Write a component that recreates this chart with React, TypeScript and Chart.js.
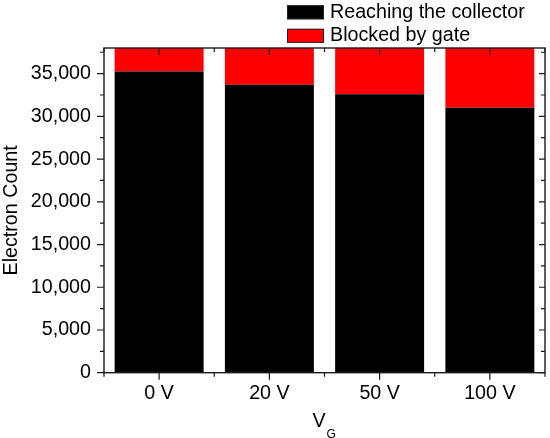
import React, { useEffect, useRef } from 'react';
import { Chart, registerables } from 'chart.js';

Chart.register(...registerables);

// ---- data ----
const categories = ['0 V', '20 V', '50 V', '100 V'];
const reachingCollector = [35250, 33700, 32600, 31000];
const blockedByGate = [4750, 6300, 7400, 9000];
const seriesLabels = ['Reaching the collector', 'Blocked by gate'];
const seriesColors = ['#000000', '#ff0000'];
const yMin = 0;
const yMax = 38000;
const yStep = 5000;
const yTickValues = [0, 5000, 10000, 15000, 20000, 25000, 30000, 35000];
const yTitle = 'Electron Count';
const xTitleMain = 'V';
const xTitleSub = 'G';

const FONT = '"Liberation Sans", Arial, Helvetica, sans-serif';
const FS = 19.7;

const framePlugin = {
  id: 'frameTicks',
  afterDatasetsDraw(chart: any) {
    const { ctx, chartArea: a, scales } = chart;
    const xs = scales.x;
    const ys = scales.y;
    ctx.save();
    ctx.strokeStyle = '#1a1a1a';
    ctx.lineWidth = 1.4;
    ctx.strokeRect(a.left, a.top, a.right - a.left, a.bottom - a.top);
    ctx.lineWidth = 1.2;
    ctx.beginPath();
    const n = categories.length;
    for (let i = 0; i < n; i++) {
      const px = xs.getPixelForValue(i);
      ctx.moveTo(px, a.bottom);
      ctx.lineTo(px, a.bottom + 7);
      ctx.moveTo(px, a.top);
      ctx.lineTo(px, a.top + 7);
    }
    for (let i = 0; i <= n; i++) {
      const px = xs.getPixelForValue(i - 0.5);
      ctx.moveTo(px, a.bottom);
      ctx.lineTo(px, a.bottom + 4);
      ctx.moveTo(px, a.top);
      ctx.lineTo(px, a.top + 4);
    }
    for (const t of ys.ticks) {
      const py = ys.getPixelForValue(t.value);
      ctx.moveTo(a.left - 7, py);
      ctx.lineTo(a.left, py);
      ctx.moveTo(a.right - 6, py);
      ctx.lineTo(a.right, py);
    }
    for (let v = yStep / 2; v < yMax; v += yStep) {
      const py = ys.getPixelForValue(v);
      ctx.moveTo(a.left - 4, py);
      ctx.lineTo(a.left, py);
      ctx.moveTo(a.right - 4, py);
      ctx.lineTo(a.right, py);
    }
    ctx.stroke();
    ctx.restore();
  },
  afterDraw(chart: any) {
    const { ctx, chartArea: a } = chart;
    ctx.save();
    // x-axis title with subscript
    ctx.fillStyle = '#000';
    ctx.textBaseline = 'alphabetic';
    ctx.textAlign = 'left';
    ctx.font = `${FS}px ${FONT}`;
    const cx = (a.left + a.right) / 2 - 5.5;
    const vW = ctx.measureText(xTitleMain).width;
    ctx.fillText(xTitleMain, cx - vW / 2, a.bottom + 54);
    ctx.font = `12px ${FONT}`;
    ctx.fillText(xTitleSub, cx + vW / 2 + 1, a.bottom + 65);

    // legend (vertical, top right)
    ctx.font = `${FS}px ${FONT}`;
    ctx.textBaseline = 'middle';
    chart.data.datasets.forEach((ds: any, i: number) => {
      const yc = 12.3 + i * 23.5;
      ctx.fillStyle = ds.backgroundColor;
      ctx.fillRect(287, yc - 7, 37, 14);
      ctx.strokeStyle = '#222';
      ctx.lineWidth = 1;
      ctx.strokeRect(287.5, yc - 6.5, 36, 13);
      ctx.fillStyle = '#000';
      ctx.fillText(ds.label, 330, yc);
    });
    ctx.restore();
  },
};

export default function App() {
  const ref = useRef<HTMLCanvasElement | null>(null);
  useEffect(() => {
    if (!ref.current) return;
    const font = { family: FONT, size: FS };
    const chart = new Chart(ref.current, {
      type: 'bar',
      data: {
        labels: categories,
        datasets: [
          {
            label: seriesLabels[0],
            data: reachingCollector,
            backgroundColor: seriesColors[0],
            borderWidth: 0,
            barPercentage: 0.807,
            categoryPercentage: 1,
          },
          {
            label: seriesLabels[1],
            data: blockedByGate,
            backgroundColor: seriesColors[1],
            borderWidth: 0,
            barPercentage: 0.807,
            categoryPercentage: 1,
          },
        ],
      },
      options: {
        animation: false,
        responsive: true,
        maintainAspectRatio: false,
        layout: { padding: { left: 0, right: 5, top: 48, bottom: 0 } },
        plugins: {
          legend: { display: false },
          tooltip: { enabled: false },
        },
        scales: {
          x: {
            stacked: true,
            grid: { display: false, drawTicks: false },
            border: { display: false },
            ticks: { font, color: '#000', padding: 9.5, maxRotation: 0, autoSkip: false },
            afterFit: (s: any) => {
              s.height = 65.3;
            },
          },
          y: {
            stacked: true,
            min: yMin,
            max: yMax,
            grid: { display: false, drawTicks: false },
            border: { display: false },
            ticks: { stepSize: yStep, includeBounds: false, autoSkip: false, font, color: '#000', padding: 13 },
            afterBuildTicks: (s: any) => {
              s.ticks = yTickValues.map((v) => ({ value: v }));
            },
            title: {
              display: true,
              text: yTitle,
              font,
              color: '#000',
              padding: { top: 0, bottom: 0 },
            },
            afterFit: (s: any) => {
              s.width = 104;
            },
          },
        },
      },
      plugins: [framePlugin],
    });
    return () => chart.destroy();
  }, []);
  return (
    <div style={{ position: 'fixed', left: 0, top: 0, width: 550, height: 438, background: '#fff' }}>
      <canvas ref={ref} />
    </div>
  );
}
